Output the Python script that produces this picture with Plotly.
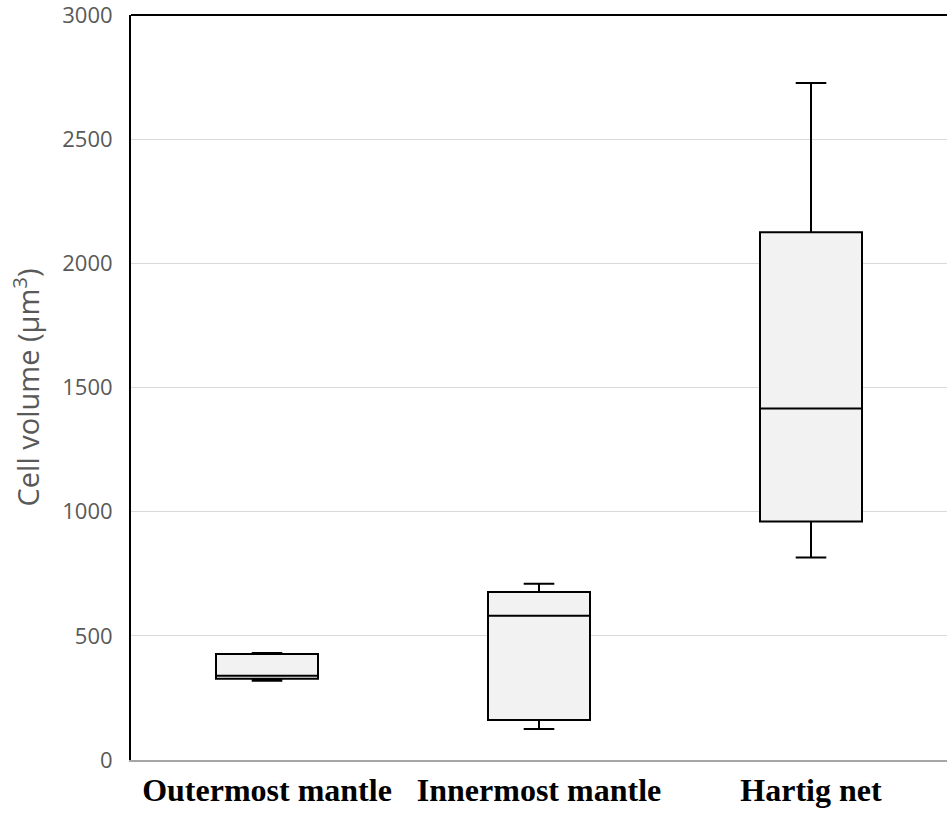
import plotly.graph_objects as go

categories = ["Outermost mantle", "Innermost mantle", "Hartig net"]
lower_fence = [319, 125, 815]
q1 = [327, 161, 960]
median = [339, 581, 1415]
q3 = [427, 677, 2125]
upper_fence = [431, 710, 2726]
y_ticks = [0, 500, 1000, 1500, 2000, 2500, 3000]

fig = go.Figure()
fig.add_trace(go.Box(
    x=categories,
    lowerfence=lower_fence, q1=q1, median=median, q3=q3, upperfence=upper_fence,
    fillcolor="#f2f2f2",
    line=dict(color="black", width=2),
    width=0.375,
    whiskerwidth=0.3,
    boxpoints=False,
    showlegend=False,
    hoverinfo="skip",
))

fig.update_layout(
    width=947, height=814,
    margin=dict(l=131, r=0, t=15, b=54),
    plot_bgcolor="white", paper_bgcolor="white",
    xaxis=dict(
        type="category",
        range=[-0.5, 2.5],
        showline=True, linecolor="#a6a6a6", linewidth=2,
        showgrid=False, ticks="",
        tickfont=dict(family="Liberation Serif", size=32, color="black", weight="bold"),
        ticklabelstandoff=1,
    ),
    yaxis=dict(
        range=[0, 3000],
        tickvals=y_ticks,
        showgrid=True, gridcolor="#d9d9d9", gridwidth=1,
        zeroline=False,
        showline=True, linecolor="black", linewidth=2,
        ticks="",
        ticklabeloverflow="allow",
        tickfont=dict(family="Open Sans", size=22, color="#595959"),
        ticklabelstandoff=12,
        title=dict(text="Cell volume (µm<sup>3</sup>)",
                   font=dict(family="Open Sans", size=29, color="#595959"),
                   standoff=14),
    ),
    shapes=[dict(type="line", xref="paper", yref="paper", x0=0, x1=1, y0=1, y1=1,
                 line=dict(color="black", width=2))],
)

fig.write_html("out.html")
